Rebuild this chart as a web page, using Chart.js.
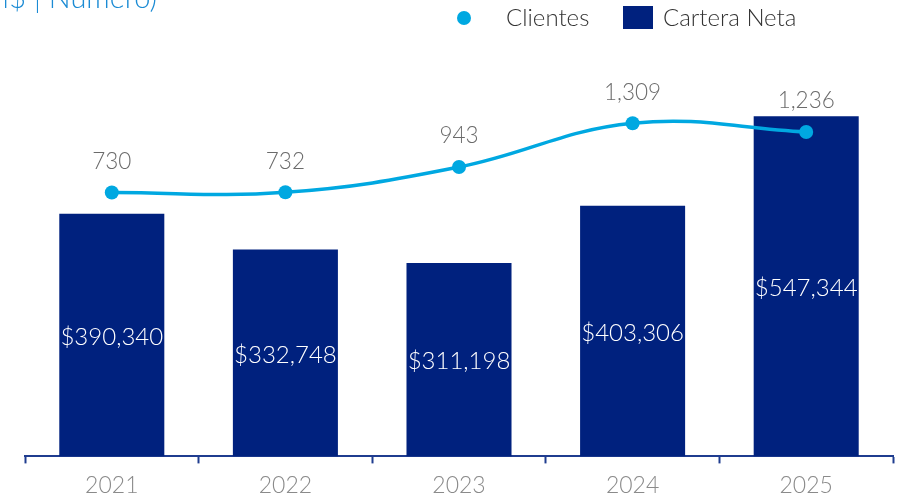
<!DOCTYPE html>
<html>
<head>
<meta charset="utf-8">
<script src="https://cdn.jsdelivr.net/npm/chart.js@4/dist/chart.umd.min.js"></script>
<style>
    html, body { margin: 0; padding: 0; background: #ffffff; }
    #wrap { width: 903px; height: 498px; }
</style>
</head>
<body>
<div id="wrap"><canvas id="myChart" width="903" height="498"></canvas></div>
<script>
const years = ['2021', '2022', '2023', '2024', '2025'];
const carteraNeta = [390340, 332748, 311198, 403306, 547344];
const clientes = [730, 732, 943, 1309, 1236];
const subtitle = '(MM$ | Número)';

const FONT = "Lato, 'Open Sans', sans-serif";
const BAR_COLOR = '#00217e';
const LINE_COLOR = '#00a8e1';

const fmt = n => n.toLocaleString('en-US');

// legend + clipped heading + value labels, drawn by hand
const decorations = {
    id: 'decorations',
    afterDatasetsDraw(chart) {
        const ctx = chart.ctx;
        ctx.save();

        // heading cut off by the top edge
        ctx.font = '300 29px ' + FONT;
        ctx.fillStyle = '#1b8bd4';
        ctx.textAlign = 'right';
        ctx.textBaseline = 'alphabetic';
        ctx.fillText(subtitle, 157, 8);

        // bar values
        const barMeta = chart.getDatasetMeta(1);
        ctx.font = '300 24px ' + FONT;
        ctx.fillStyle = '#ffffff';
        ctx.textAlign = 'center';
        ctx.textBaseline = 'middle';
        barMeta.data.forEach((bar, i) => {
            const mid = (bar.y + bar.base) / 2 + 2;
            ctx.fillText('$' + fmt(carteraNeta[i]), bar.x, mid);
        });

        // line values
        const lineMeta = chart.getDatasetMeta(0);
        ctx.font = '300 22.5px ' + FONT;
        ctx.fillStyle = '#6b6b6b';
        lineMeta.data.forEach((pt, i) => {
            ctx.fillText(fmt(clientes[i]), pt.x, pt.y - 31);
        });

        // legend
        const ds = chart.data.datasets;
        ctx.font = '300 24px ' + FONT;
        ctx.textAlign = 'left';
        ctx.beginPath();
        ctx.arc(464, 18, 7, 0, Math.PI * 2);
        ctx.fillStyle = ds[0].backgroundColor;
        ctx.fill();
        ctx.fillStyle = '#333333';
        ctx.fillText(ds[0].label, 506, 18);
        ctx.fillStyle = ds[1].backgroundColor;
        ctx.fillRect(623, 6, 30, 23);
        ctx.fillStyle = '#333333';
        ctx.fillText(ds[1].label, 663, 18);

        ctx.restore();
    }
};

const config = {
    type: 'bar',
    data: {
        labels: years,
        datasets: [{
            type: 'line',
            label: 'Clientes',
            data: clientes,
            borderColor: LINE_COLOR,
            backgroundColor: LINE_COLOR,
            borderWidth: 3.5,
            pointRadius: 7,
            pointHoverRadius: 7,
            pointBorderWidth: 0,
            tension: 0.4,
            fill: false,
            yAxisID: 'y1',
            order: 0
        }, {
            label: 'Cartera Neta',
            data: carteraNeta,
            backgroundColor: BAR_COLOR,
            barPercentage: 0.605,
            categoryPercentage: 1,
            yAxisID: 'y',
            order: 1
        }]
    },
    options: {
        responsive: false,
        animation: false,
        layout: {
            padding: { left: 25, right: 10, top: 40, bottom: -9 }
        },
        plugins: {
            legend: { display: false },
            tooltip: { enabled: false },
            title: { display: false }
        },
        scales: {
            x: {
                offset: true,
                grid: {
                    offset: true,
                    drawOnChartArea: false,
                    drawTicks: true,
                    tickLength: 7,
                    tickWidth: 2,
                    tickColor: '#1f3c8f'
                },
                border: {
                    display: true,
                    color: '#1f3c8f',
                    width: 2
                },
                ticks: {
                    color: '#8a8a8a',
                    padding: 8,
                    font: { family: FONT, size: 23, weight: '300' }
                }
            },
            y: {
                display: false,
                min: 0,
                max: 670000
            },
            y1: {
                display: false,
                min: -1475,
                max: 2005
            }
        }
    },
    plugins: [decorations]
};

myChart = new Chart(document.getElementById('myChart'), config);
</script>
</body>
</html>
